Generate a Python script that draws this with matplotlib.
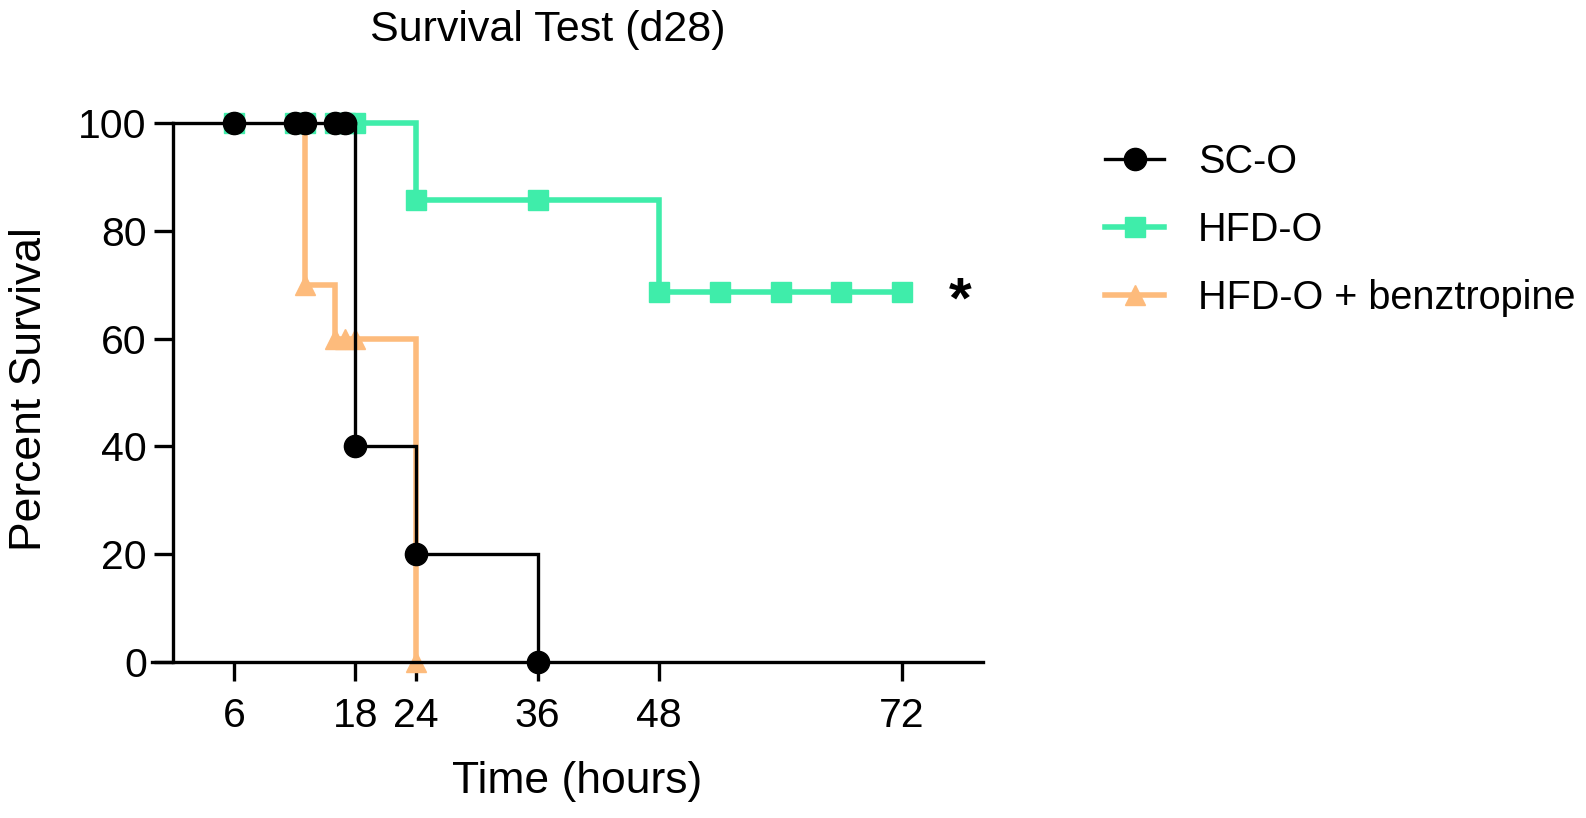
import matplotlib
matplotlib.use("Agg")
import matplotlib.pyplot as plt
from matplotlib.lines import Line2D

plt.rcParams['font.family'] = ['Liberation Sans', 'DejaVu Sans']

# survival data (hours, percent survival)
sco_t = [0, 6, 12, 13, 16, 17, 18, 24, 36]
sco_s = [100, 100, 100, 100, 100, 100, 40, 20, 0]

hfd_t = [6, 12, 13, 16, 17, 18, 24, 36, 48, 54, 60, 66, 72]
hfd_s = [100, 100, 100, 100, 100, 100, 85.7, 85.7, 68.6, 68.6, 68.6, 68.6, 68.6]

benz_t = [13, 13, 16, 17, 18, 24]
benz_s = [100, 70, 60, 60, 60, 0]

labels = ['SC-O', 'HFD-O', 'HFD-O + benztropine']
xticks = [6, 18, 24, 36, 48, 72]
yticks = [0, 20, 40, 60, 80, 100]

c_sco = 'black'
c_hfd = '#3FEDAA'
c_benz = '#FDBB7C'

fig = plt.figure(figsize=(15.86, 8.18), dpi=100)
ax = fig.add_axes([152/1586, 156/818, 831/1586, 539/818])

# orange group (bottom)
ax.step(benz_t, benz_s, where='post', color=c_benz, lw=4.0, zorder=2,
        clip_on=False, solid_joinstyle='miter')
ax.plot(benz_t[1:], benz_s[1:], ls='none', marker='^', ms=15, color=c_benz,
        mec=c_benz, zorder=2, clip_on=False)

# green group: line drawn from last point at 100
i0 = max(i for i, v in enumerate(hfd_s) if v == 100)
ax.step(hfd_t[i0:], hfd_s[i0:], where='post', color=c_hfd, lw=4.0, zorder=3,
        clip_on=False, solid_joinstyle='miter')
ax.plot(hfd_t, hfd_s, ls='none', marker='s', ms=14.5, color=c_hfd,
        mec=c_hfd, zorder=3, clip_on=False)

# black group (top)
ax.step(sco_t, sco_s, where='post', color=c_sco, lw=2.4, zorder=4,
        clip_on=False, solid_joinstyle='miter')
ax.plot(sco_t[1:], sco_s[1:], ls='none', marker='o', ms=16, color=c_sco,
        zorder=4, clip_on=False)

ax.text(77.8, hfd_s[-1] - 2.0, '*', fontsize=42, fontweight='bold',
        ha='center', va='center', clip_on=False)

ax.set_xlim(-2.1, 80)
ax.set_ylim(0, 100)
ax.spines['top'].set_visible(False)
ax.spines['right'].set_visible(False)
ax.spines['left'].set_position(('data', 0))
ax.spines['left'].set_bounds(0, 100)
for sp in ['left', 'bottom']:
    ax.spines[sp].set_linewidth(2.4)
ax.set_xticks(xticks)
ax.set_yticks(yticks)
ax.tick_params(axis='both', length=14, width=2.4, labelsize=29.5)
ax.tick_params(axis='x', pad=11)
ax.tick_params(axis='y', pad=5)

fig.text(577/1586, 1 - 781/818, 'Time (hours)', fontsize=32,
         ha='center', va='center')
fig.text(30/1586, 1 - 389/818, 'Percent Survival', fontsize=32,
         ha='center', va='center', rotation=90)
fig.text(548/1586, 1 - 30/818, 'Survival Test (d28)', fontsize=31,
         ha='center', va='center')

handles = [
    Line2D([], [], color=c_sco, lw=2.4, marker='o', ms=16),
    Line2D([], [], color=c_hfd, lw=4.0, marker='s', ms=14.5),
    Line2D([], [], color=c_benz, lw=4.0, marker='^', ms=15),
]
fig.legend(handles, labels, loc='upper left',
           bbox_to_anchor=(1105/1586, 1 - 143/818), frameon=False,
           fontsize=28.5, handlelength=1.5, handletextpad=0.85,
           labelspacing=0.76, borderpad=0, borderaxespad=0)

fig.savefig('out.png', dpi=100)
